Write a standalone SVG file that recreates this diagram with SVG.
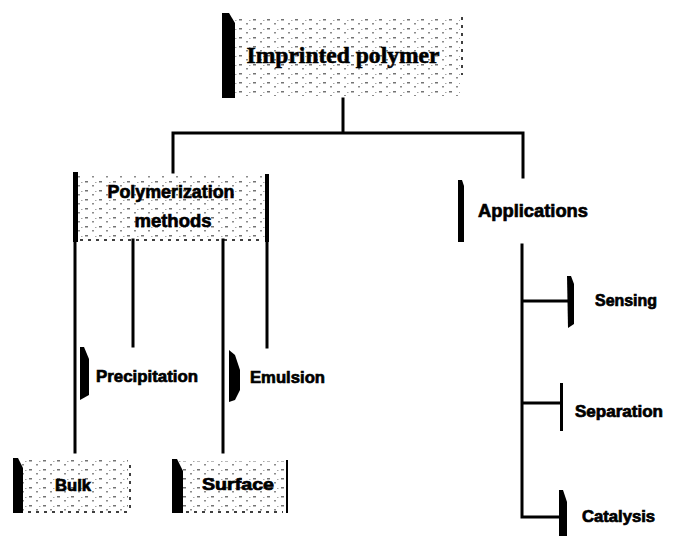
<svg xmlns="http://www.w3.org/2000/svg" width="678" height="536" viewBox="0 0 678 536">
<style>
.ln{stroke:#000;stroke-width:3;fill:none;stroke-linecap:square}
.bar{fill:#000}
.dash{stroke:#000;stroke-width:1.5;stroke-dasharray:3 5;fill:none}
.tex{fill:url(#speck)}
.t{font-family:"Liberation Sans",Arial,sans-serif;font-weight:bold;fill:#000;stroke:#000;stroke-width:0.7}
.ts{font-family:"Liberation Serif","Times New Roman",serif;font-weight:bold;fill:#000;stroke:#000;stroke-width:0.6}
</style>
<defs>
<pattern id="speck" width="14" height="9" patternUnits="userSpaceOnUse">
<rect x="1" y="1" width="3" height="1.5" fill="#000" opacity="0.55"/>
<rect x="8" y="5" width="2" height="1.5" fill="#000" opacity="0.45"/>
<rect x="11" y="2" width="1.5" height="1" fill="#000" opacity="0.35"/>
</pattern>
</defs>
<rect width="678" height="536" fill="#fff"/>
<g id="connectors">
<path class="ln" d="M343 99V133M173 133H523M173 133V172M523 133V177"/>
<path class="ln" d="M75 240V452M133 240V346M223 240V452M267 240V347"/>
<path class="ln" d="M522 245V517M522 301H568M522 403H560M522 517H560"/>
</g>
<g id="n_imprinted">
<rect class="tex" x="228" y="16" width="232" height="80"/>
<path class="bar" d="M222 13h7l6 10v75h-13z"/>
<path class="dash" d="M462 17V75"/>
<text class="ts" x="343" y="63" font-size="24" text-anchor="middle" textLength="193" lengthAdjust="spacingAndGlyphs">Imprinted polymer</text>
</g>
<g id="n_methods">
<rect class="tex" x="78" y="175" width="188" height="64"/>
<rect class="bar" x="73" y="172" width="5" height="70"/>
<rect class="bar" x="265" y="174" width="4" height="68"/>
<path class="dash" d="M80 240H262"/>
<text class="t" x="171" y="198" font-size="19" text-anchor="middle" textLength="127" lengthAdjust="spacingAndGlyphs">Polymerization</text>
<text class="t" x="173" y="227" font-size="19" text-anchor="middle" textLength="77" lengthAdjust="spacingAndGlyphs">methods</text>
</g>
<g id="n_applications">
<path class="bar" d="M458 180h4l2 6v56h-6z"/>
<text class="t" x="478" y="217" font-size="19" textLength="110" lengthAdjust="spacingAndGlyphs">Applications</text>
</g>
<g id="n_precipitation">
<path class="bar" d="M80 347h4l5 12v36l-9 5z"/>
<text class="t" x="96" y="382" font-size="17" textLength="102" lengthAdjust="spacingAndGlyphs">Precipitation</text>
</g>
<g id="n_emulsion">
<path class="bar" d="M229 350l6 5 5 15v20l-5 10-6 2z"/>
<text class="t" x="250" y="383" font-size="17" textLength="75" lengthAdjust="spacingAndGlyphs">Emulsion</text>
</g>
<g id="n_bulk">
<rect class="tex" x="20" y="460" width="108" height="52"/>
<path class="bar" d="M13 458h5l5 10v45h-10z"/>
<path class="dash" d="M130 465V512M20 512H128"/>
<text class="t" x="73" y="491" font-size="16" text-anchor="middle" textLength="36" lengthAdjust="spacingAndGlyphs">Bulk</text>
</g>
<g id="n_surface">
<rect class="tex" x="178" y="461" width="107" height="51"/>
<path class="bar" d="M172 459h5l6 12v42h-11z"/>
<rect class="bar" x="286" y="460" width="2" height="53"/>
<path class="dash" d="M178 512H283"/>
<text class="t" x="238" y="490" font-size="16" text-anchor="middle" textLength="72" lengthAdjust="spacingAndGlyphs">Surface</text>
</g>
<g id="n_sensing">
<path class="bar" d="M567 276h4l3 8v40l-6 4z"/>
<text class="t" x="595" y="306" font-size="16" textLength="62" lengthAdjust="spacingAndGlyphs">Sensing</text>
</g>
<g id="n_separation">
<path class="bar" d="M560 383h3v48h-3z"/>
<text class="t" x="575" y="417" font-size="16" textLength="88" lengthAdjust="spacingAndGlyphs">Separation</text>
</g>
<g id="n_catalysis">
<path class="bar" d="M559 490h4l4 12v34h-8z"/>
<text class="t" x="582" y="522" font-size="16" textLength="73" lengthAdjust="spacingAndGlyphs">Catalysis</text>
</g>
</svg>
